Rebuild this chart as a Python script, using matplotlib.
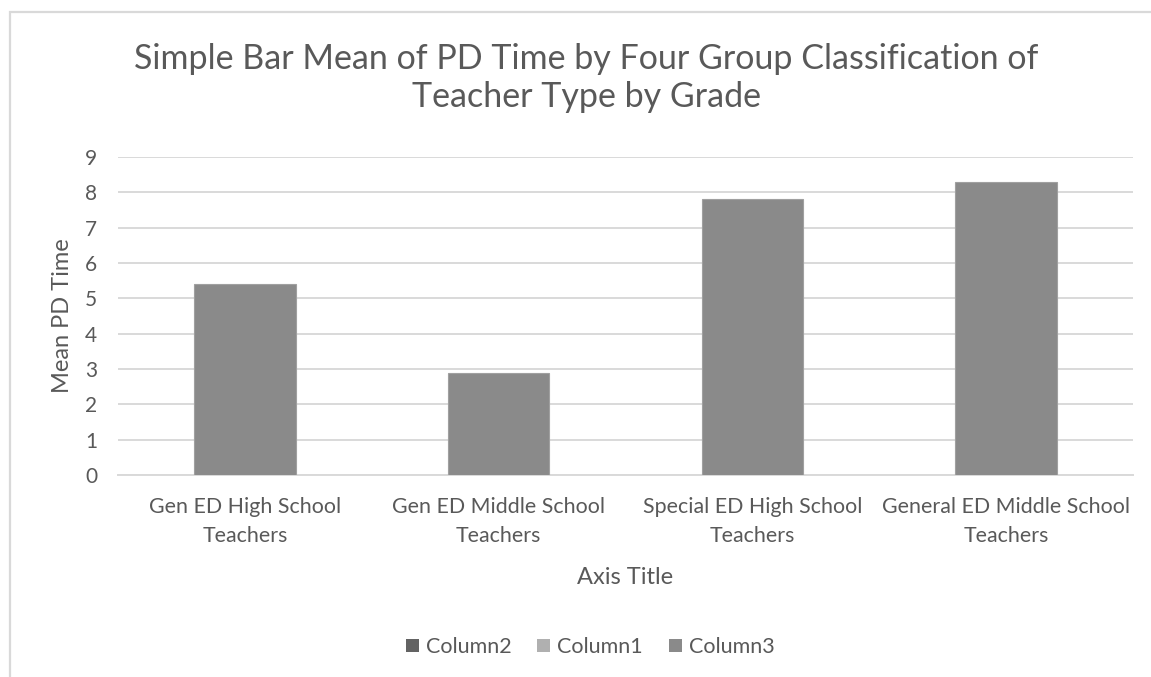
import matplotlib
matplotlib.use('Agg')
import matplotlib.pyplot as plt
from matplotlib.patches import Patch, Rectangle

categories = ["Gen ED High School\nTeachers", "Gen ED Middle School\nTeachers",
              "Special ED High School\nTeachers", "General ED Middle School\nTeachers"]
mean_pd_time = [5.4, 2.9, 7.8, 8.3]
legend_names = ["Column2", "Column1", "Column3"]
legend_colors = ["#636363", "#b0b0b0", "#8a8a8a"]
yticks = list(range(0, 10))

plt.rcParams['font.family'] = ['Lato', 'DejaVu Sans']
text_col = '#595959'
grid_col = '#d9d9d9'

W, H = 1151, 677
fig = plt.figure(figsize=(W / 100, H / 100), dpi=100)
ax = fig.add_axes([118 / W, 1 - 475 / H, (1133 - 118) / W, (475 - 157) / H])

x = range(len(categories))
ax.bar(x, mean_pd_time, width=0.4, color='#8a8a8a', edgecolor='#a0a0a0', linewidth=0.8, zorder=3)

ax.set_xlim(-0.5, len(categories) - 0.5)
ax.set_ylim(0, 9)
ax.set_yticks(yticks)
ax.set_xticks(list(x))
ax.set_xticklabels(categories, fontsize=15.4, color=text_col, linespacing=1.6)
ax.tick_params(axis='y', labelsize=15, labelcolor=text_col, length=0, pad=15)
ax.tick_params(axis='x', length=0, pad=15.5)
ax.yaxis.grid(True, color=grid_col, linewidth=1.4, zorder=0)
for s in ['top', 'right', 'left']:
    ax.spines[s].set_visible(False)
ax.spines['bottom'].set_color(grid_col)
ax.spines['bottom'].set_linewidth(1.4)

ax.set_ylabel("Mean PD Time", fontsize=17, color=text_col, labelpad=9)
ax.set_xlabel("Axis Title", fontsize=17, color=text_col, labelpad=15)

fig.text(586 / W, 1 - 78 / H, "Simple Bar Mean of PD Time by Four Group Classification of\nTeacher Type by Grade",
         ha='center', va='center', fontsize=24.5, color=text_col, linespacing=1.24)

handles = [Patch(facecolor=c, edgecolor='none') for c in legend_colors]
fig.legend(handles, legend_names, loc='center', bbox_to_anchor=(590 / W, 1 - 647 / H),
           ncol=3, frameon=False, fontsize=15.5, labelcolor=text_col,
           handlelength=0.6, handleheight=0.6, handletextpad=0.33, columnspacing=1.2)

# chart area border
fig.patches.append(Rectangle((10 / W, -0.1), 1.2, 1 - 11.5 / H + 0.1, transform=fig.transFigure,
                             fill=False, edgecolor=grid_col, linewidth=1.6))

fig.savefig('out.png', dpi=100)
